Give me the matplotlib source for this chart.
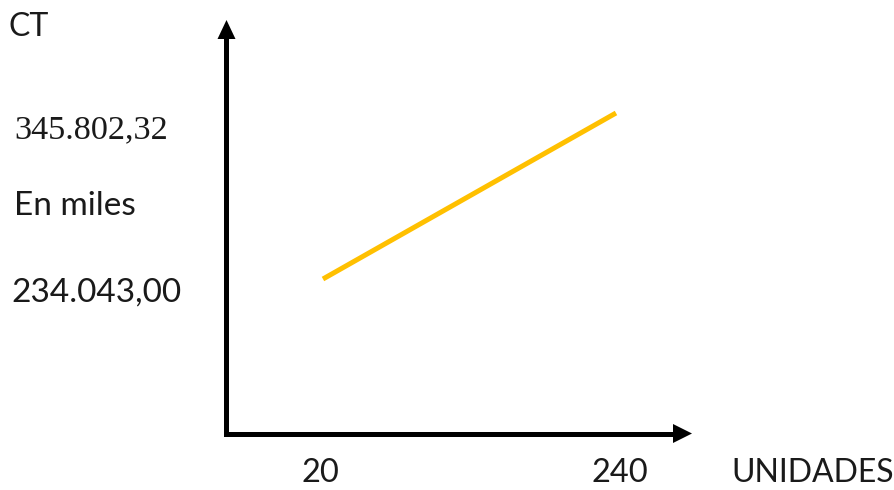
import matplotlib
matplotlib.use("Agg")
import matplotlib.pyplot as plt
from matplotlib.patches import Polygon
from matplotlib.lines import Line2D

# Datos
unidades = [20, 240]
costo_total = [234043.00, 345802.32]
etiquetas_x = ["20", "240"]
etiquetas_y = ["234.043,00", "345.802,32"]

W, H = 895, 490
fig = plt.figure(figsize=(W / 100, H / 100), dpi=100)
ax = fig.add_axes([0, 0, 1, 1])
ax.set_xlim(-222.5, 449.5)
ax.set_ylim(91987, 421880)
ax.axis("off")

def fx(px):
    return px / W

def fy(py):
    return 1 - py / H

# Ejes con flechas (dibujados a mano)
negro = "black"
ejes = Line2D([fx(226.5), fx(226.5), fx(676)], [fy(36), fy(433.5), fy(433.5)],
              transform=fig.transFigure, color=negro, lw=3.6,
              solid_joinstyle="miter", solid_capstyle="butt")
fig.add_artist(ejes)
fig.add_artist(Polygon([(fx(217.5), fy(39)), (fx(235.5), fy(39)), (fx(226.5), fy(20))],
                       closed=True, transform=fig.transFigure, color=negro, lw=0))
fig.add_artist(Polygon([(fx(673), fy(424)), (fx(673), fy(443)), (fx(692), fy(433.5))],
                       closed=True, transform=fig.transFigure, color=negro, lw=0))

# Linea de costo total
ax.plot(unidades, costo_total, color="#FFC000", lw=3.6, solid_capstyle="butt")

sans = ["Lato", "DejaVu Sans"]
txt = "#1a1a1a"
fig.text(fx(29), fy(27), "CT", ha="center", va="center", fontsize=23, family=sans, color=txt)
fig.text(fx(91.5), fy(130), etiquetas_y[1], ha="center", va="center", fontsize=24.7,
         family=["Liberation Serif"], color=txt)
fig.text(fx(74.5), fy(206), "En miles", ha="center", va="center", fontsize=24, family=sans, color=txt)
fig.text(fx(96.5), fy(293), etiquetas_y[0], ha="center", va="center", fontsize=24, family=sans, color=txt)
fig.text(fx(320), fy(473), etiquetas_x[0], ha="center", va="center", fontsize=23.5, family=sans, color=txt)
fig.text(fx(620), fy(473), etiquetas_x[1], ha="center", va="center", fontsize=23.5, family=sans, color=txt)
fig.text(fx(813), fy(473), "UNIDADES", ha="center", va="center", fontsize=23, family=sans, color=txt)

fig.savefig("out.png", dpi=100)
